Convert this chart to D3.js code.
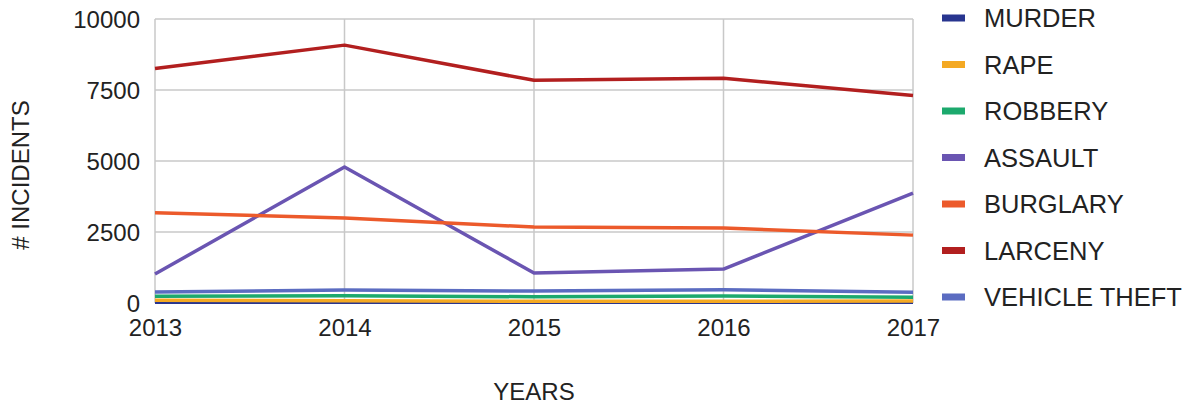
<!DOCTYPE html>
<html>
<head>
<meta charset="utf-8">
<script src="https://cdn.jsdelivr.net/npm/d3@7"></script>
<style>
  html, body { margin: 0; padding: 0; background: #fff; }
  text { font-family: "Liberation Sans", Arial, sans-serif; fill: #222; }
</style>
</head>
<body>
<div id="chart"></div>
<script>
// Crime incidents per year
const years = [2013, 2014, 2015, 2016, 2017];
const yTicks = [0, 2500, 5000, 7500, 10000];

const seriesNames = ["MURDER", "RAPE", "ROBBERY", "ASSAULT", "BURGLARY", "LARCENY", "VEHICLE THEFT"];
const seriesColors = ["#28358f", "#f4a923", "#1ca96d", "#6a55b2", "#ec5a2b", "#b21f1f", "#5b6cc1"];

const murder = [30, 30, 25, 25, 25];
const rape = [100, 75, 60, 60, 70];
const robbery = [240, 255, 220, 245, 200];
const assault = [1020, 4790, 1055, 1195, 3870];
const burglary = [3180, 2990, 2675, 2640, 2390];
const larceny = [8260, 9080, 7840, 7910, 7310];
const vehicleTheft = [390, 455, 420, 465, 380];

const seriesValues = [murder, rape, robbery, assault, burglary, larceny, vehicleTheft];

const width = 1190;
const height = 406;
const margin = { top: 19, right: 277, bottom: 103, left: 155 };

const svg = d3
  .select("#chart")
  .append("svg")
  .attr("width", width)
  .attr("height", height);

const x = d3
  .scalePoint()
  .domain(years)
  .range([margin.left, width - margin.right]);

const y = d3
  .scaleLinear()
  .domain([0, 10000])
  .range([height - margin.bottom, margin.top]);

// Grid
const grid = svg.append("g").attr("stroke", "#c8c8c8").attr("stroke-width", 1.5);
grid
  .selectAll("line.h")
  .data(yTicks)
  .join("line")
  .attr("class", "h")
  .attr("x1", margin.left)
  .attr("x2", width - margin.right)
  .attr("y1", (d) => y(d))
  .attr("y2", (d) => y(d));
grid
  .selectAll("line.v")
  .data(years)
  .join("line")
  .attr("class", "v")
  .attr("x1", (d) => x(d))
  .attr("x2", (d) => x(d))
  .attr("y1", y(0))
  .attr("y2", y(10000));

// Axes (labels only)
const yAxis = svg
  .append("g")
  .attr("transform", `translate(${margin.left},0)`)
  .call(d3.axisLeft(y).tickValues(yTicks).tickSize(0).tickPadding(15).tickFormat(d3.format("d")));
yAxis.select(".domain").remove();
yAxis.selectAll("text").attr("font-size", 24).attr("font-family", null).attr("dy", "0.36em");

const xAxis = svg
  .append("g")
  .attr("transform", `translate(0,${y(0)})`)
  .call(d3.axisBottom(x).tickSize(0).tickPadding(16).tickFormat(d3.format("d")));
xAxis.select(".domain").remove();
xAxis.selectAll("text").attr("font-size", 24).attr("font-family", null);

// Lines
const line = d3
  .line()
  .x((d, i) => x(years[i]))
  .y((d) => y(d));

svg
  .append("g")
  .attr("fill", "none")
  .attr("stroke-width", 3.5)
  .attr("stroke-linejoin", "round")
  .selectAll("path")
  .data(seriesValues)
  .join("path")
  .attr("stroke", (d, i) => seriesColors[i])
  .attr("d", line);

// Axis titles
svg
  .append("text")
  .attr("transform", `translate(29,175) rotate(-90)`)
  .attr("text-anchor", "middle")
  .attr("font-size", 24)
  .text("# INCIDENTS");

svg
  .append("text")
  .attr("x", (margin.left + width - margin.right) / 2)
  .attr("y", 400)
  .attr("text-anchor", "middle")
  .attr("font-size", 24)
  .text("YEARS");

// Legend
const legend = svg
  .append("g")
  .selectAll("g")
  .data(seriesNames)
  .join("g")
  .attr("transform", (d, i) => `translate(942,${18 + i * 46.5})`);

legend
  .append("rect")
  .attr("x", 0)
  .attr("y", -3.5)
  .attr("width", 23)
  .attr("height", 7)
  .attr("fill", (d, i) => seriesColors[i]);

legend
  .append("text")
  .attr("x", 42)
  .attr("dy", "0.36em")
  .attr("font-size", 25.5)
  .text((d) => d);
</script>
</body>
</html>
